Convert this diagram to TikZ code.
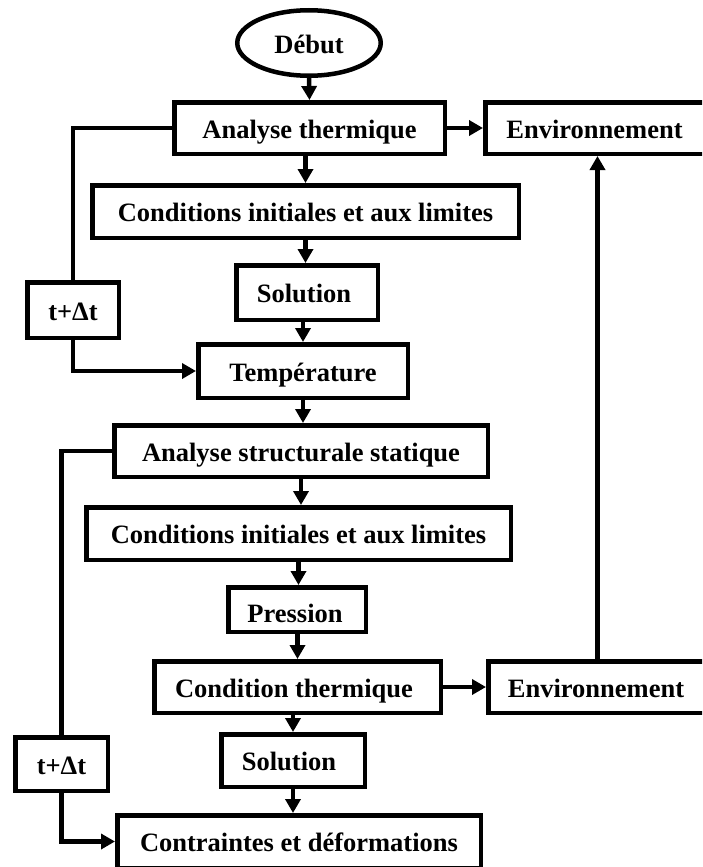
\documentclass[tikz,border=0pt]{standalone}
\usepackage{fontspec}
\setmainfont{Liberation Serif}
\usetikzlibrary{arrows.meta,shapes.geometric}
\newcommand{\flowfont}{\fontsize{26.5}{30}\selectfont\bfseries}
\tikzset{
  box/.style={draw, line width=4.5pt, inner sep=0pt, font=\flowfont, text height=20.5pt, text depth=0pt},
  conn/.style={line width=4.5pt},
  arr/.style={line width=4.5pt, -{Triangle[length=14pt,width=15pt]}},
}
\begin{document}
\begin{tikzpicture}[x=1pt,y=-1pt]
\clip (0,0) rectangle (702,867);
\fill[white] (0,0) rectangle (702,867);
% nodes
\node[box, ellipse, minimum width=143.5pt, minimum height=65.5pt] (D) at (309,43) {Début};
\node[box, minimum width=270.5pt, minimum height=51.5pt] (AT) at (309.5,128) {Analyse thermique};
\node[box, minimum width=221.5pt, minimum height=51.5pt] (E1) at (596,128) {\hspace*{-3pt}Environnement};
\node[box, minimum width=426.5pt, minimum height=52.5pt] (C1) at (305.5,211.5) {Conditions initiales et aux limites};
\node[box, minimum width=141.5pt, minimum height=54.5pt] (S1) at (307,292.5) {\hspace*{-6pt}Solution};
\node[box, minimum width=91.5pt, minimum height=55.5pt] (T1) at (73,310) {t+Δt};
\node[box, minimum width=209.5pt, minimum height=53.5pt] (TP) at (303,371) {Température};
\node[box, minimum width=373.5pt, minimum height=51.5pt] (AS) at (301,451) {Analyse structurale statique};
\node[box, minimum width=424.5pt, minimum height=52.5pt] (C2) at (298.5,533.5) {Conditions initiales et aux limites};
\node[box, minimum width=137.5pt, minimum height=44.5pt] (P) at (297,609.5) {\hspace*{-4pt}\raisebox{-2.5pt}{Pression}};
\node[box, minimum width=286.5pt, minimum height=51.5pt] (CT) at (297.5,687) {\hspace*{-7pt}Condition thermique};
\node[box, minimum width=218.5pt, minimum height=51.5pt] (E2) at (597.5,687) {\hspace*{-3pt}Environnement};
\node[box, minimum width=143.5pt, minimum height=52.5pt] (S2) at (293,760.5) {\hspace*{-8pt}Solution};
\node[box, minimum width=92.5pt, minimum height=53.5pt] (T2) at (61.5,764) {t+Δt};
\node[box, minimum width=363.5pt, minimum height=52.5pt] (K) at (299,841.5) {Contraintes et déformations};
% main flow
\draw[arr] (D.south) -- (AT.north);
\draw[arr] (C1.north |- AT.south) -- (C1.north);
\draw[arr] (C1.south) -- (C1.south |- S1.north);
\draw[arr] (TP.north |- S1.south) -- (TP.north);
\draw[arr] (TP.south) -- (TP.south |- AS.north);
\draw[arr] (AS.south) -- (AS.south |- C2.north);
\draw[arr] (C2.south) -- (C2.south |- P.north);
\draw[arr] (CT.north |- P.south) -- (CT.north);
\draw[arr] (S2.north |- CT.south) -- (S2.north);
\draw[arr] (S2.south) -- (S2.south |- K.north);
% side branches
\draw[arr] (AT.east) -- (E1.west);
\draw[arr] (CT.east) -- (E2.west);
\draw[arr] (E2.north) -- (E2.north |- E1.south);
% loops
\draw[conn] (AT.west) -| (T1.north);
\draw[arr] (T1.south) |- (TP.west);
\draw[conn] (AS.west) -| (T2.north);
\draw[arr] (T2.south) |- (K.west);
\end{tikzpicture}
\end{document}
